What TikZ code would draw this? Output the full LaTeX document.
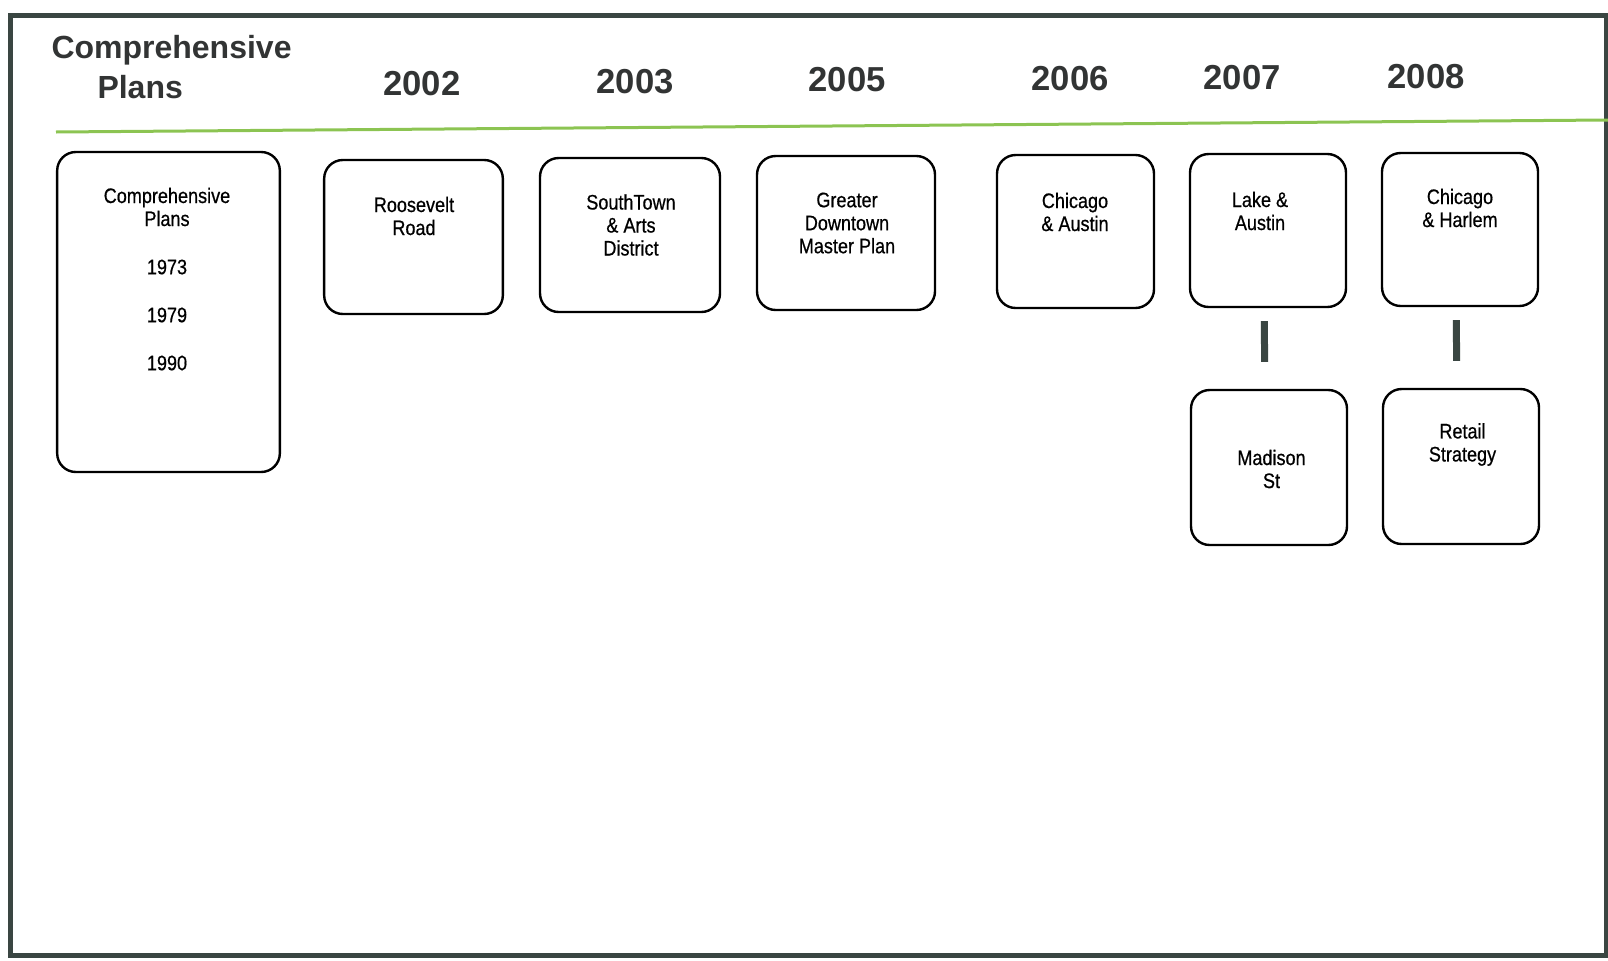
\documentclass[tikz,border=0pt]{standalone}
\usepackage{fontspec}
\setmainfont{Liberation Sans}
\newfontfamily\boxfont[FakeStretch=0.86,FakeBold=0.6]{Liberation Sans}
\usetikzlibrary{positioning}

\definecolor{framegray}{RGB}{58,70,66}
\definecolor{headgray}{RGB}{50,52,52}
\definecolor{rulegreen}{RGB}{140,196,82}

\tikzset{every picture/.style={line width=0.75pt}}
\tikzset{
  plan/.style={draw=black, line width=1.8pt, rounded corners=14pt, inner sep=0pt},
  plantext/.style={align=center, inner sep=0.75pt, font=\boxfont\fontsize{15.75}{17.25}\selectfont},
  yearhead/.style={inner sep=0.75pt, text=headgray, font=\bfseries\fontsize{26}{30}\selectfont},
  link/.style={draw=framegray, line width=5.25pt, shorten <=9.75pt, shorten >=20.25pt, transform canvas={xshift=-3pt}}
}

\begin{document}
\begin{tikzpicture}[x=0.75pt,y=0.75pt,yscale=-1,xscale=1]
\useasboundingbox (0,0) rectangle (1608,960);

%Shape: Frame
\draw [framegray, line width=3.75pt] (10,15) -- (1606,15) -- (1606,955) -- (10,955) -- cycle ;
%Straight Lines: green rule
\draw [rulegreen, line width=2.25pt] (56,132) -- (1608,120) ;

% Text Node: heading
\node [anchor=north west, align=left, inner sep=0.75pt, text=headgray, font=\bfseries\fontsize{24}{30}\selectfont] (heading) at (50,34) {Comprehensive\\\hspace*{34.5pt}Plans};

% Text Node: years
\foreach \yr/\xx/\yy in {2002/422/84, 2003/635/82, 2005/847/80, 2006/1070/79, 2007/1242/78, 2008/1426/77}
  \node [yearhead] (y\yr) at (\xx,\yy) {\yr};

%Shape: Rounded boxes
\node [plan, minimum width=167pt, minimum height=240pt] (comp) at (168.5,312) {};
\node [plan, minimum width=134pt, minimum height=115.5pt] (road) at (413.5,237) {};
\node [plan, minimum width=135pt, minimum height=115.5pt] (south) at (630,235) {};
\node [plan, minimum width=133.5pt, minimum height=115.5pt] (greater) at (846,233) {};
\node [plan, minimum width=117.75pt, minimum height=114.75pt] (chiaus) at (1075.5,231.5) {};
\node [plan, minimum width=117pt, minimum height=114.75pt] (lake) at (1268,230.5) {};
\node [plan, minimum width=117pt, minimum height=114.75pt] (harlem) at (1460,229.5) {};
\node [plan, minimum width=117pt, minimum height=116.25pt] (madison) at (1269,467.5) {};
\node [plan, minimum width=117pt, minimum height=116.25pt] (retail) at (1461,466.5) {};

% Text Node: box labels
\node [plantext] (comptxt) at (167,207) {Comprehensive\\Plans};
\foreach \yr [count=\i] in {1973,1979,1990}
  \node [plantext] (comp\yr) at (167,219+48*\i) {\yr};
\node [plantext] (roadtxt) at (414,216) {Roosevelt\\Road};
\node [plantext] (southtxt) at (631,225) {SouthTown\\\&~Arts\\District};
\node [plantext] (greatertxt) at (847,223) {Greater\\Downtown\\Master Plan};
\node [plantext] (chiaustxt) at (1075,212) {Chicago\\\&~Austin};
\node [plantext] (laketxt) at (1260,211) {Lake \&\\Austin};
\node [plantext] (harlemtxt) at (1460,208) {Chicago\\\&~Harlem};
\node [plantext] (madisontxt) at (1271.5,469) {Madison\\St};
\node [plantext] (retailtxt) at (1462.5,444.5) {Retail\\Strategy};

%Straight Lines: bars
\draw [link] (lake) -- (madison) ;
\draw [link] (harlem) -- (retail) ;

\end{tikzpicture}
\end{document}
